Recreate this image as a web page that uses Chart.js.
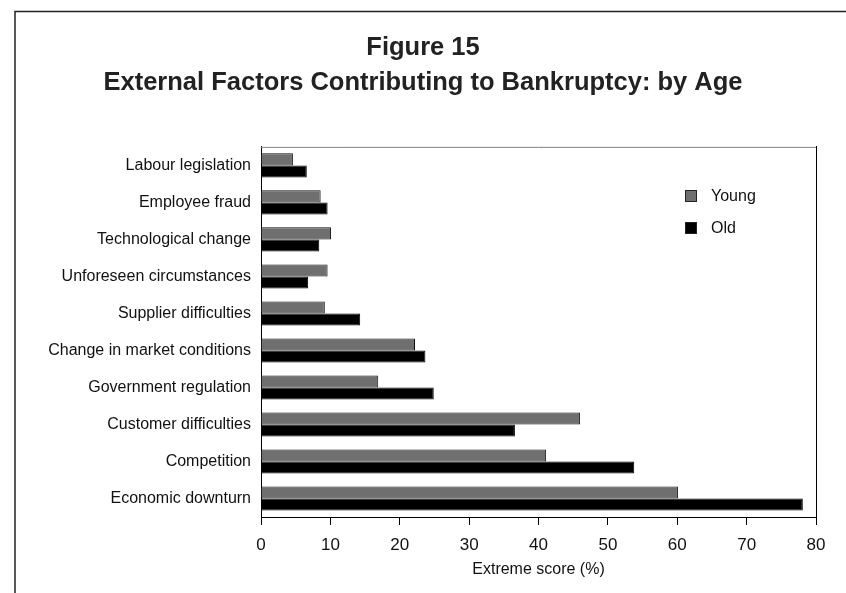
<!DOCTYPE html>
<html>
<head>
<meta charset="utf-8">
<script src="https://cdn.jsdelivr.net/npm/chart.js@4"></script>
<style>
  html, body { margin: 0; padding: 0; background: #fff; }
  #wrap { width: 846px; height: 593px; position: relative; }
</style>
</head>
<body>
<div id="wrap"><canvas id="chart" width="846" height="593"></canvas></div>
<script>
const categories = [
  "Labour legislation",
  "Employee fraud",
  "Technological change",
  "Unforeseen circumstances",
  "Supplier difficulties",
  "Change in market conditions",
  "Government regulation",
  "Customer difficulties",
  "Competition",
  "Economic downturn",
];
const young = [4.6, 8.6, 10.1, 9.6, 9.2, 22.2, 16.9, 46.0, 41.1, 60.1];
const old = [6.6, 9.6, 8.4, 6.8, 14.3, 23.7, 24.9, 36.6, 53.8, 78.1];
const xTicks = [0, 10, 20, 30, 40, 50, 60, 70, 80];

const sans = "'Liberation Sans', Arial, sans-serif";

// outer frame, plot box top edge, and the legend inside the plot
const decor = {
  id: "decor",
  beforeDraw(chart) {
    const ctx = chart.ctx;
    ctx.save();
    ctx.strokeStyle = "#222";
    ctx.lineWidth = 1.5;
    ctx.beginPath();
    ctx.moveTo(15, 593);
    ctx.lineTo(15, 11.5);
    ctx.lineTo(846, 11.5);
    ctx.stroke();
    ctx.restore();
  },
  afterDraw(chart) {
    const { ctx, chartArea: a } = chart;
    ctx.save();
    ctx.lineWidth = 1;
    ctx.strokeStyle = "#808080";
    ctx.beginPath();
    ctx.moveTo(a.left, a.top + 0.5);
    ctx.lineTo(a.right, a.top + 0.5);
    ctx.stroke();

    ctx.font = "16px " + sans;
    ctx.textBaseline = "middle";
    chart.data.datasets.forEach((ds, i) => {
      const y = 196 + i * 32;
      ctx.fillStyle = ds.backgroundColor;
      ctx.fillRect(685.5, y - 5.5, 11, 11);
      ctx.strokeStyle = "#222";
      ctx.strokeRect(685.5, y - 5.5, 11, 11);
      ctx.fillStyle = "#111";
      ctx.fillText(ds.label, 711, y + 1);
    });
    ctx.restore();
  },
};

new Chart(document.getElementById("chart"), {
  type: "bar",
  data: {
    labels: categories,
    datasets: [
      { label: "Young", data: young, backgroundColor: "#6f6f6f", borderColor: "#111", borderWidth: 1 },
      { label: "Old", data: old, backgroundColor: "#000000", borderColor: "#000", borderWidth: 1 },
    ],
  },
  options: {
    indexAxis: "y",
    responsive: false,
    animation: false,
    layout: { padding: 0 },
    datasets: { bar: { categoryPercentage: 0.65, barPercentage: 1.0 } },
    plugins: {
      legend: { display: false },
      tooltip: { enabled: false },
      title: {
        display: true,
        text: ["Figure 15", "External Factors Contributing to Bankruptcy: by Age"],
        color: "#222",
        font: { family: sans, size: 25.5, weight: "bold", lineHeight: 1.37 },
        padding: { top: 31, bottom: 46 },
      },
    },
    scales: {
      x: {
        min: 0,
        max: 80,
        afterBuildTicks: (s) => { s.ticks = xTicks.map((v) => ({ value: v })); },
        afterFit: (s) => { s.height = 76; },
        grid: { drawOnChartArea: false, tickLength: 8, color: "#000", tickColor: "#000" },
        border: { color: "#000", width: 1 },
        ticks: { color: "#111", padding: 10, font: { family: sans, size: 17 } },
        title: {
          display: true,
          text: "Extreme score (%)",
          color: "#111",
          font: { family: sans, size: 16 },
          padding: { top: 0, bottom: 14 },
        },
      },
      y: {
        afterFit: (s) => { s.width = 261; },
        grid: { display: false, drawTicks: false },
        border: { color: "#000", width: 1 },
        ticks: { color: "#111", padding: 10, font: { family: sans, size: 16 } },
      },
      // empty right-hand axis: keeps the plot's right edge and draws that border
      yRight: {
        type: "category",
        position: "right",
        afterFit: (s) => { s.width = 30; },
        grid: { display: false, drawTicks: false },
        border: { color: "#000", width: 1 },
        ticks: { display: false },
      },
    },
  },
  plugins: [decor],
});
</script>
</body>
</html>
